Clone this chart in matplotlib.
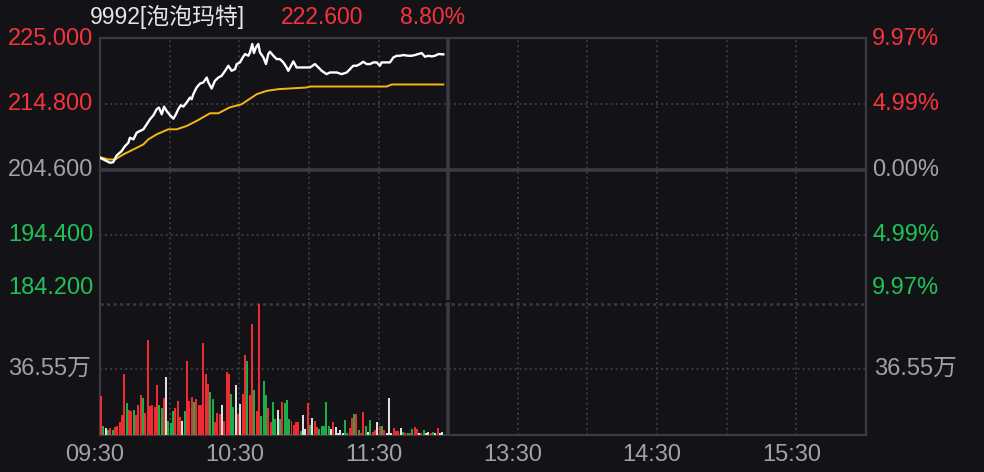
import matplotlib
matplotlib.use("Agg")
import matplotlib.pyplot as plt
import matplotlib.transforms as mtransforms

# 分时数据 (分钟: 09:30 起算, 午休后接 13:00)
price_min = [0, 2.9, 4.3, 5.7, 7.2, 9.3, 10.8, 12.2, 12.9, 14.4, 15.1, 15.8, 17.2, 18.7, 20.1,
             21.5, 23.0, 24.4, 25.4, 26.6, 27.6, 28.7, 30.2, 31.6, 32.7, 33.7, 34.8, 35.9, 37.3,
             38.8, 39.5, 40.2, 41.6, 43.1, 44.5, 46.0, 46.7, 48.1, 49.5, 51.0, 52.4, 53.9, 55.3,
             56.7, 58.2, 58.9, 60.3, 61.5, 62.5, 63.9, 64.6, 65.6, 66.3, 67.2, 68.2, 68.9, 70.4,
             71.5, 72.5, 73.2, 74.7, 76.1, 77.5, 79.0, 80.4, 81.1, 82.3, 83.3, 84.7, 86.2, 88.3,
             90.5, 92.6, 94.1, 95.5, 97.6, 99.1, 102.0, 104.1, 106.3, 107.7, 109.1, 110.6, 112.0,
             113.4, 114.9, 116.3, 117.8, 119.2, 120.6, 121.3, 122.8, 124.9, 126.4, 127.8, 129.2,
             130.7, 132.8, 134.3, 135.7, 137.1, 138.6, 140.0, 141.4, 142.9, 144.3, 145.8, 147.9]
price = [206.43, 205.91, 205.65, 205.75, 206.80, 207.48, 208.26, 208.78, 209.57, 209.31, 209.83,
         210.35, 210.62, 210.88, 211.66, 212.45, 213.07, 214.02, 214.28, 213.23, 214.43, 213.75,
         213.07, 212.55, 213.23, 214.02, 214.64, 214.43, 215.06, 215.85, 215.58, 216.37, 217.41,
         218.04, 218.20, 218.98, 218.20, 217.26, 218.46, 218.98, 219.25, 220.03, 220.82, 220.03,
         220.29, 221.08, 221.34, 222.12, 222.65, 222.38, 222.91, 224.22, 222.80, 223.69, 224.22,
         222.91, 222.12, 221.08, 222.65, 223.01, 222.38, 221.86, 221.86, 221.34, 220.55, 220.03,
         220.82, 221.50, 220.55, 220.55, 220.55, 220.55, 221.08, 220.55, 220.03, 219.51, 219.77,
         219.77, 219.51, 219.77, 220.29, 220.82, 220.82, 221.08, 221.44, 221.08, 221.08, 221.34,
         221.34, 220.82, 221.34, 221.34, 221.34, 222.12, 222.38, 222.38, 222.49, 222.38, 222.38,
         222.49, 222.65, 222.80, 222.23, 222.38, 222.28, 222.38, 222.65, 222.60]

avg_min = [0, 3.6, 6.5, 10.0, 14.4, 18.7, 20.8, 24.4, 29.4, 33.0, 37.3, 41.6, 47.4, 51.0, 55.7,
           61.0, 67.5, 71.8, 76.8, 89.0, 90.5, 123.5, 125.7, 147.9]
avg_price = [206.54, 206.17, 206.17, 206.95, 207.74, 208.52, 209.31, 210.09, 210.88, 210.88,
             211.40, 212.19, 213.39, 213.39, 214.28, 214.80, 216.37, 216.89, 217.16, 217.42,
             217.57, 217.57, 217.89, 217.89]

# 成交量 (万股) 与涨跌方向 r=涨 g=跌 w=平
volume = [21.8, 5.0, 3.7, 2.8, 3.7, 2.8, 4.5, 5.0, 7.3, 11.2, 34.1, 17.9, 14.0, 13.4, 14.0, 11.2,
          16.8, 22.4, 20.7, 12.3, 52.6, 16.2, 16.8, 15.7, 28.0, 16.8, 15.1, 20.7, 32.5, 7.8, 6.7,
          13.4, 15.1, 19.0, 10.1, 7.8, 13.4, 41.4, 19.0, 21.3, 18.5, 20.1, 16.8, 16.4, 50.9, 34.1,
          28.5, 24.1, 20.1, 7.3, 12.0, 11.7, 16.8, 7.8, 35.2, 34.1, 22.9, 15.7, 28.0, 11.7, 17.3,
          22.9, 44.2, 41.4, 22.4, 61.5, 25.2, 13.4, 72.7, 10.6, 30.2, 22.4, 15.1, 7.3, 18.5, 9.0,
          14.0, 9.0, 18.5, 17.9, 19.6, 9.0, 7.8, 5.6, 7.3, 7.3, 2.2, 11.2, 3.4, 17.9, 5.6, 9.5,
          7.8, 4.5, 3.4, 5.0, 5.0, 18.5, 5.0, 3.4, 7.3, 4.5, 1.1, 2.8, 1.1, 8.4, 1.1, 3.9, 9.5,
          11.7, 11.7, 2.8, 1.1, 12.9, 5.0, 1.7, 8.4, 1.7, 2.8, 7.3, 5.0, 5.0, 2.8, 1.1, 20.7, 1.1,
          3.9, 2.2, 2.2, 3.9, 1.7, 1.1, 1.1, 1.1, 3.4, 4.5, 3.4, 1.1, 1.1, 2.8, 1.1, 1.7, 1.1,
          1.7, 1.1, 3.9, 1.1, 1.7]
direction = list("rgwgrgrrrr" "rgrrgrrrgr" "rrrrrggrwg" "ggrrrwgrrr" "grrrrrrggr"
                 "rrwrrrggwr" "wrrgrrgrrg" "ggrrggwgrg" "ggrrrrgwwr" "gwrrgggggw"
                 "rwwwwggrrg" "rgrrgwgrrw" "rgrwwwrrrw" "grgrgrrwrg" "wwrgwrww")

pre_close = 204.6
last_price = 222.6
price_ticks = [225.0, 214.8, 204.6, 194.4, 184.2]
vol_ticks = [36.55, 73.1]
time_ticks = [0, 60, 120, 180, 240, 300]
time_labels = ["09:30", "10:30", "11:30", "13:30", "14:30", "15:30"]
title_code = "9992[泡泡玛特]"

BG = "#131317"
GRID = "#3a3a3f"
RED_T = "#f5333d"
GREEN_T = "#1ec257"
GRAY_T = "#a2a2a4"
BAR_COLORS = {"r": "#ee2b31", "g": "#1aad48", "w": "#dedede"}
FONT = ["Liberation Sans", "Noto Sans CJK SC"]
FS = 17

fig = plt.figure(figsize=(9.84, 4.72), dpi=100, facecolor=BG)
W, H = 984, 472
ax_p = fig.add_axes([100 / W, 1 - 300 / H, 766 / W, 262 / H], facecolor=BG)
ax_v = fig.add_axes([100 / W, 1 - 435 / H, 766 / W, 133 / H], facecolor=BG)

dot = (0, (1.0, 1.6))
for ax in (ax_p, ax_v):
    ax.set_xlim(0, 330)
    ax.set_xticks([])
    ax.set_yticks([])
    for m in range(30, 330, 30):
        if m == 150:
            ax.axvline(m, color=GRID, lw=2.6, zorder=1)
        else:
            ax.axvline(m, color=GRID, lw=1.4, ls=dot, zorder=1)
    for s in ax.spines.values():
        s.set_color(GRID)
        s.set_linewidth(1.6)

ax_p.spines["bottom"].set_visible(False)
ax_v.spines["top"].set_visible(False)

# 价格区
ax_p.set_ylim(184.2, 225.0 + 2 * 20.4 / 260)
for p in price_ticks[1:-1]:
    if p == pre_close:
        ax_p.axhline(p, color=GRID, lw=2.6, zorder=1)
    else:
        ax_p.axhline(p, color=GRID, lw=1.4, ls=dot, zorder=1)
ax_p.plot(avg_min, avg_price, color="#f5b619", lw=1.4, zorder=3)
ax_p.plot(price_min, price, color="white", lw=1.7, zorder=4)

# 成交量区
ax_v.set_ylim(0, 73.1 * 133 / 131.5)
for v in vol_ticks:
    ax_v.axhline(v, color=GRID, lw=1.8 if v == vol_ticks[-1] else 1.4,
                 ls=(0, (1.3, 1.3)) if v == vol_ticks[-1] else dot, zorder=1)
ax_v.bar([i + 0.5 for i in range(len(volume))], volume, width=0.86,
         color=[BAR_COLORS[d] for d in direction], zorder=3)

# 左右轴标签
tl = mtransforms.blended_transform_factory(ax_p.transAxes, ax_p.transData)
for p in price_ticks:
    pct = (p - pre_close) / pre_close * 100
    col = RED_T if p > pre_close else (GREEN_T if p < pre_close else GRAY_T)
    trans = tl
    if p == price_ticks[-1]:
        trans = mtransforms.offset_copy(tl, fig=fig, y=12, units="dots")
    ax_p.text(-0.009, p, f"{p:.3f}", transform=trans, ha="right", va="center",
              color=col, fontsize=FS, family=FONT)
    ax_p.text(1.008, p, f"{abs(pct):.2f}%", transform=trans, ha="left", va="center",
              color=col, fontsize=FS, family=FONT)

tv = mtransforms.blended_transform_factory(ax_v.transAxes, ax_v.transData)
ax_v.text(-0.012, vol_ticks[0], f"{vol_ticks[0]:.2f}万", transform=tv, ha="right",
          va="center", color=GRAY_T, fontsize=FS, family=FONT)
ax_v.text(1.010, vol_ticks[0], f"{vol_ticks[0]:.2f}万", transform=tv, ha="left",
          va="center", color=GRAY_T, fontsize=FS, family=FONT)

tx = mtransforms.blended_transform_factory(ax_v.transData, ax_v.transAxes)
tx = mtransforms.offset_copy(tx, fig=fig, x=-5, units="dots")
for m, lab in zip(time_ticks, time_labels):
    ax_v.text(m, -0.15, lab, transform=tx, ha="center", va="center",
              color=GRAY_T, fontsize=FS, family=FONT)

# 标题行
chg = (last_price - pre_close) / pre_close * 100
fig.text(90 / W, 1 - 17 / H, title_code, ha="left", va="center",
         color="#e6e6e6", fontsize=16.5, family=FONT)
fig.text(281 / W, 1 - 17 / H, f"{last_price:.3f}", ha="left", va="center",
         color=RED_T, fontsize=16.5, family=FONT)
fig.text(400 / W, 1 - 17 / H, f"{chg:.2f}%", ha="left", va="center",
         color=RED_T, fontsize=16.5, family=FONT)

fig.savefig("out.png", dpi=100, facecolor=BG)
